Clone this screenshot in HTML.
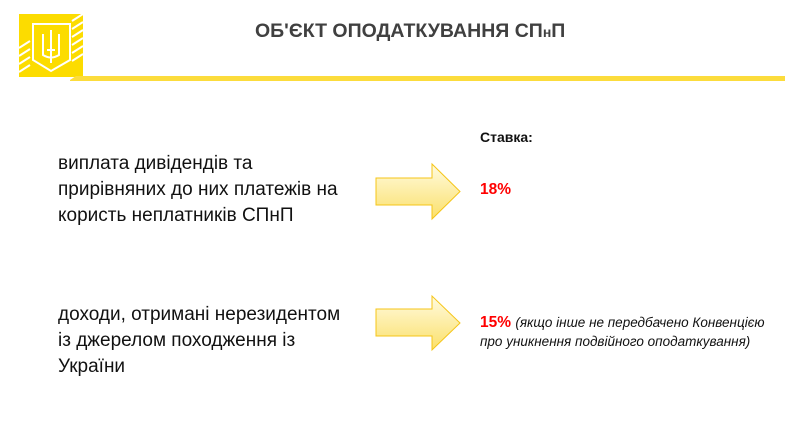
<!DOCTYPE html>
<html><head><meta charset="utf-8"><style>
body{margin:0;width:785px;height:448px;background:#fff;position:relative;overflow:hidden;font-family:"Liberation Sans",sans-serif}
.a{position:absolute;white-space:nowrap}
.l{font-size:19px;color:#111;line-height:26px;left:58px}
</style></head><body>
<svg class="a" style="left:0;top:0" width="785" height="448">
<defs><linearGradient id="g" x1="0" x2="0" y1="0" y2="1"><stop offset="0" stop-color="#fffbe0"/><stop offset="1" stop-color="#fbe06a"/></linearGradient></defs>
<rect x="19" y="14" width="64" height="63" fill="#fcdc00"/>
<g stroke="#fff" stroke-width="2" fill="none">
<path d="M72 21 L83 14 M72 29 L83 22 M72 37 L83 30 M72 45 L83 38 M72 53 L83 46 M72 61 L83 54"/>
<path d="M19 48 L30 41 M19 56 L30 49 M19 64 L30 57 M19 72 L30 65"/>
<path d="M33 24 H70 V60 L51 71 L33 60 Z"/>
<path d="M51 30 V63 M43 34 V55 Q51 60 59 55 V34 M47 50 H55"/>
</g>
<path d="M70 80 L76 76 H785 V81 H70 Z" fill="#fcdc3c"/>
<path d="M376 178 H432 V164 L460 191.5 L432 219 V205 H376 Z" fill="url(#g)" stroke="#f5c518" stroke-width="1"/>
<path d="M376 309 H432 V296 L460 323 L432 350 V336 H376 Z" fill="url(#g)" stroke="#f5c518" stroke-width="1"/>
</svg>
<div class="a" style="left:255px;top:20px;font-size:19.5px;font-weight:bold;color:#404040">ОБ'ЄКТ ОПОДАТКУВАННЯ СП<span style="font-size:14px">н</span>П</div>
<div class="a l" style="top:151px">виплата дивідендів та<br>прирівняних до них платежів на<br>користь неплатників СПнП</div>
<div class="a l" style="top:302px">доходи, отримані нерезидентом<br>із джерелом походження із<br>України</div>
<div class="a" style="left:480px;top:129px;font-size:14px;font-weight:bold;color:#111">Ставка:</div>
<div class="a" style="left:480px;top:181px;font-size:15.5px;font-weight:bold;color:#f00">18%</div>
<div class="a" style="left:480px;top:314px;font-size:15.5px;font-weight:bold;color:#f00">15% <span style="font-size:13.5px;font-weight:normal;font-style:italic;color:#111">(якщо інше не передбачено Конвенцією</span></div>
<div class="a" style="left:480px;top:334px;font-size:13.5px;font-style:italic;color:#111">про уникнення подвійного оподаткування)</div>
</body></html>
